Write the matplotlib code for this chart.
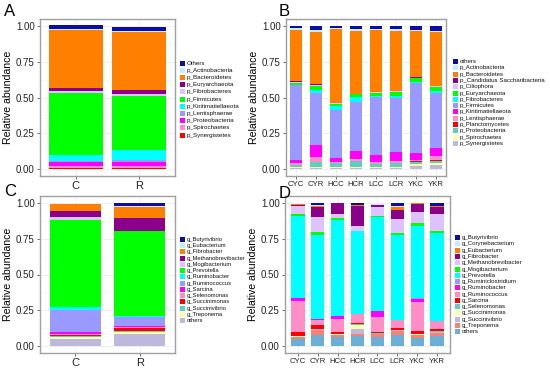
import matplotlib
matplotlib.use("Agg")
import matplotlib.pyplot as plt
import numpy as np
from matplotlib.patches import Rectangle

# ---------------- palette (legend order) ----------------
pal = ['#0D0DA3', '#BFEFFF', '#FF7F00', '#8B008B', '#DCC3FF', '#00FF00', '#00FFFF',
       '#9999FF', '#FF00FF', '#FF8EC6', '#FF0000', '#5CCFC0', '#FFFFAA', '#BFB8DD',
       '#FA8072', '#6BAED6']

# ---------------- Panel A data ----------------
A_groups = ['C', 'R']
A_taxa = ['Others', 'p_Actinobacteria', 'p_Bacteroidetes', 'p_Euryarchaeota', 'p_Fibrobacteres',
          'p_Firmicutes', 'p_Kiritimatiellaeota', 'p_Lentisphaerae', 'p_Proteobacteria',
          'p_Spirochaetes', 'p_Synergistetes']
A_colors = ['#0D0DA3', '#BFEFFF', '#FF7F00', '#8B008B', '#DCC3FF', '#00FF00', '#00FFFF',
            '#9999FF', '#FF00FF', '#FF8EC6', '#FF0000']
A_others = [0.025, 0.030]
A_actino = [0.005, 0.005]
A_bacteroidetes = [0.410, 0.405]
A_eury = [0.020, 0.025]
A_fibro = [0.010, 0.020]
A_firmicutes = [0.437, 0.375]
A_kiri = [0.040, 0.070]
A_lenti = [0.010, 0.015]
A_proteo = [0.030, 0.030]
A_spiro = [0.010, 0.010]
A_syner = [0.008, 0.008]
A_vals = [A_others, A_actino, A_bacteroidetes, A_eury, A_fibro, A_firmicutes, A_kiri,
          A_lenti, A_proteo, A_spiro, A_syner]

# ---------------- Panel B data ----------------
B_groups = ['CYC', 'CYR', 'HCC', 'HCR', 'LCC', 'LCR', 'YKC', 'YKR']
B_taxa = ['others', 'p_Actinobacteria', 'p_Bacteroidetes', 'p_Candidatus Saccharibacteria',
          'p_Ciliophora', 'p_Euryarchaeota', 'p_Fibrobacteres', 'p_Firmicutes',
          'p_Kiritimatiellaeota', 'p_Lentisphaerae', 'p_Planctomycetes', 'p_Proteobacteria',
          'p_Spirochaetes', 'p_Synergistetes']
B_colors = pal[:14]
B_others = [0.015, 0.028, 0.012, 0.023, 0.018, 0.021, 0.027, 0.035]
B_actino = [0.010, 0.012, 0.010, 0.012, 0.012, 0.014, 0.005, 0.005]
B_bactero = [0.360, 0.367, 0.518, 0.438, 0.428, 0.419, 0.327, 0.380]
B_candid = [0.007, 0.003, 0.002, 0.002, 0.002, 0.002, 0.001, 0.002]
B_cilio = [0.003, 0.012, 0.003, 0.003, 0.007, 0.004, 0.002, 0.005]
B_eury = [0.017, 0.028, 0.017, 0.019, 0.025, 0.032, 0.028, 0.028]
B_fibro = [0.003, 0.016, 0.028, 0.035, 0.003, 0.008, 0.008, 0.010]
B_firmi = [0.520, 0.370, 0.334, 0.344, 0.409, 0.385, 0.492, 0.390]
B_kiri = [0.025, 0.082, 0.028, 0.057, 0.049, 0.060, 0.046, 0.056]
B_lenti = [0.012, 0.035, 0.005, 0.012, 0.010, 0.012, 0.012, 0.029]
B_plancto = [0.003, 0.002, 0.001, 0.002, 0.002, 0.002, 0.001, 0.002]
B_proteo = [0.015, 0.030, 0.030, 0.040, 0.023, 0.026, 0.020, 0.020]
B_spiro = [0.005, 0.010, 0.008, 0.008, 0.008, 0.010, 0.008, 0.008]
B_syner = [0.005, 0.005, 0.004, 0.005, 0.004, 0.005, 0.023, 0.030]
B_vals = [B_others, B_actino, B_bactero, B_candid, B_cilio, B_eury, B_fibro, B_firmi,
          B_kiri, B_lenti, B_plancto, B_proteo, B_spiro, B_syner]

# ---------------- Panel C data ----------------
C_groups = ['C', 'R']
C_taxa = ['g_Butyrivibrio', 'g_Eubacterium', 'g_Fibrobacter', 'g_Methanobrevibacter',
          'g_Mogibacterium', 'g_Prevotella', 'g_Ruminobacter', 'g_Ruminococcus', 'g_Sarcina',
          'g_Selenomonas', 'g_Succinimonas', 'g_Succinivibrio', 'g_Treponema', 'others']
C_colors = pal[:14]
C_butyri = [0.000, 0.020]
C_eubac = [0.001, 0.010]
C_fibro = [0.046, 0.075]
C_methano = [0.047, 0.090]
C_mogi = [0.016, 0.005]
C_prevo = [0.610, 0.595]
C_ruminob = [0.024, 0.003]
C_ruminoc = [0.150, 0.063]
C_sarcina = [0.015, 0.012]
C_seleno = [0.010, 0.008]
C_succinim = [0.003, 0.015]
C_succiniv = [0.007, 0.010]
C_trepo = [0.014, 0.015]
C_others = [0.051, 0.082]
C_vals = [C_butyri, C_eubac, C_fibro, C_methano, C_mogi, C_prevo, C_ruminob, C_ruminoc,
          C_sarcina, C_seleno, C_succinim, C_succiniv, C_trepo, C_others]

# ---------------- Panel D data ----------------
D_groups = ['CYC', 'CYR', 'HCC', 'HCR', 'LCC', 'LCR', 'YKC', 'YKR']
D_taxa = ['g_Butyrivibrio', 'g_Corynebacterium', 'g_Eubacterium', 'g_Fibrobacter',
          'g_Methanobrevibacter', 'g_Mogibacterium', 'g_Prevotella', 'g_Ruminiclostridium',
          'g_Ruminobacter', 'g_Ruminococcus', 'g_Sarcina', 'g_Selenomonas', 'g_Succinimonas',
          'g_Succinivibrio', 'g_Treponema', 'others']
D_colors = pal[:16]
D_butyri = [0.000, 0.016, 0.000, 0.010, 0.000, 0.019, 0.000, 0.020]
D_coryne = [0.000, 0.004, 0.000, 0.002, 0.005, 0.011, 0.000, 0.003]
D_eubac = [0.007, 0.010, 0.000, 0.011, 0.000, 0.017, 0.005, 0.007]
D_fibro = [0.011, 0.070, 0.077, 0.139, 0.020, 0.063, 0.056, 0.047]
D_methano = [0.054, 0.103, 0.028, 0.030, 0.057, 0.100, 0.077, 0.117]
D_mogi = [0.016, 0.019, 0.015, 0.002, 0.011, 0.012, 0.017, 0.016]
D_prevo = [0.571, 0.591, 0.672, 0.580, 0.659, 0.596, 0.511, 0.613]
D_ruminicl = [0.002, 0.002, 0.002, 0.002, 0.002, 0.002, 0.002, 0.002]
D_ruminob = [0.019, 0.003, 0.019, 0.002, 0.041, 0.002, 0.020, 0.004]
D_ruminoc = [0.220, 0.035, 0.089, 0.063, 0.100, 0.054, 0.203, 0.054]
D_sarcina = [0.025, 0.027, 0.012, 0.008, 0.011, 0.011, 0.021, 0.015]
D_seleno = [0.004, 0.003, 0.004, 0.004, 0.005, 0.003, 0.005, 0.004]
D_succinim = [0.002, 0.002, 0.004, 0.030, 0.002, 0.002, 0.002, 0.002]
D_succiniv = [0.003, 0.003, 0.003, 0.033, 0.002, 0.003, 0.002, 0.003]
D_trepo = [0.014, 0.035, 0.014, 0.014, 0.015, 0.028, 0.023, 0.021]
D_others = [0.047, 0.077, 0.061, 0.070, 0.065, 0.077, 0.054, 0.072]
D_vals = [D_butyri, D_coryne, D_eubac, D_fibro, D_methano, D_mogi, D_prevo, D_ruminicl,
          D_ruminob, D_ruminoc, D_sarcina, D_seleno, D_succinim, D_succiniv, D_trepo, D_others]

# ---------------- figure ----------------
W, H = 550, 370
fig = plt.figure(figsize=(W / 100, H / 100), dpi=100)
fig.patch.set_facecolor('white')

SANS = ['Liberation Sans', 'DejaVu Sans']


def px_axes(x0, y0, x1, y1):
    return fig.add_axes([x0 / W, 1 - y1 / H, (x1 - x0) / W, (y1 - y0) / H])


def stacked(ax, groups, vals, colors, width, xlim, xfs):
    x = np.arange(1, len(groups) + 1)
    bottom = np.zeros(len(groups))
    # ggplot stacks first level on top -> draw from last to first
    for v, c in zip(reversed(vals), reversed(colors)):
        v = np.array(v, dtype=float)
        ax.bar(x, v, width=width, bottom=bottom, color=c, edgecolor='none', zorder=3)
        bottom += v
    ax.set_xlim(*xlim)
    ax.set_ylim(-0.05, 1.05)
    ax.set_yticks([0, 0.25, 0.5, 0.75, 1.0])
    ax.set_yticklabels(['0.00', '0.25', '0.50', '0.75', '1.00'], fontfamily=SANS, fontsize=7)
    ax.set_yticks([0.125, 0.375, 0.625, 0.875], minor=True)
    ax.set_xticks(x)
    ax.set_xticklabels(groups, fontfamily=SANS, fontsize=xfs)
    ax.grid(True, which='major', color='#EBEBEB', linewidth=0.6, zorder=0)
    ax.grid(True, which='minor', axis='y', color='#F4F4F4', linewidth=0.4, zorder=0)
    ax.set_axisbelow(True)
    ax.tick_params(axis='both', which='major', length=2.2, width=0.6, color='#555555',
                   pad=1.5, labelcolor='#222222')
    ax.tick_params(axis='both', which='minor', length=0)
    for s in ax.spines.values():
        s.set_color('#A0A0A0')
        s.set_linewidth(1.0)
    ax.set_ylabel('Relative abundance', fontfamily=SANS, fontsize=7.6, labelpad=2)


def legend(x_box, y_first, dy, labels, colors, fs, box=5.0):
    for i, (lab, c) in enumerate(zip(labels, colors)):
        yc = y_first + i * dy
        fig.add_artist(Rectangle(((x_box) / W, 1 - (yc + box / 2) / H), box / W, box / H,
                                 facecolor=c, edgecolor='none', transform=fig.transFigure))
        fig.text((x_box + box + 2.0) / W, 1 - yc / H, lab, fontfamily=SANS, fontsize=fs,
                 va='center', ha='left', color='#111111')


axA = px_axes(40, 19, 175, 176)
stacked(axA, A_groups, A_vals, A_colors, 0.85, (0.44, 2.56), 8)
legend(180, 63.3, 7.17, A_taxa, A_colors, 4.5)

axB = px_axes(286, 19, 446, 176)
stacked(axB, B_groups, B_vals, B_colors, 0.6, (0.5, 8.5), 5.6)
legend(453, 61.7, 6.28, B_taxa, B_colors, 4.4)

axC = px_axes(40, 196, 175, 353)
stacked(axC, C_groups, C_vals, C_colors, 0.8, (0.45, 2.55), 8)
legend(180, 239.3, 6.26, C_taxa, C_colors, 4.2)

axD = px_axes(285, 196, 450, 353)
stacked(axD, D_groups, D_vals, D_colors, 0.67, (0.35, 8.65), 5.6)
legend(455, 237.7, 6.27, D_taxa, D_colors, 4.4)

for lab, x, y in [('A', 4, 12), ('B', 279, 12), ('C', 4, 192), ('D', 279, 193)]:
    fig.text(x / W, 1 - y / H, lab, fontfamily=SANS, fontsize=12, va='center', ha='left')

fig.savefig('out.png', dpi=100, facecolor='white')
